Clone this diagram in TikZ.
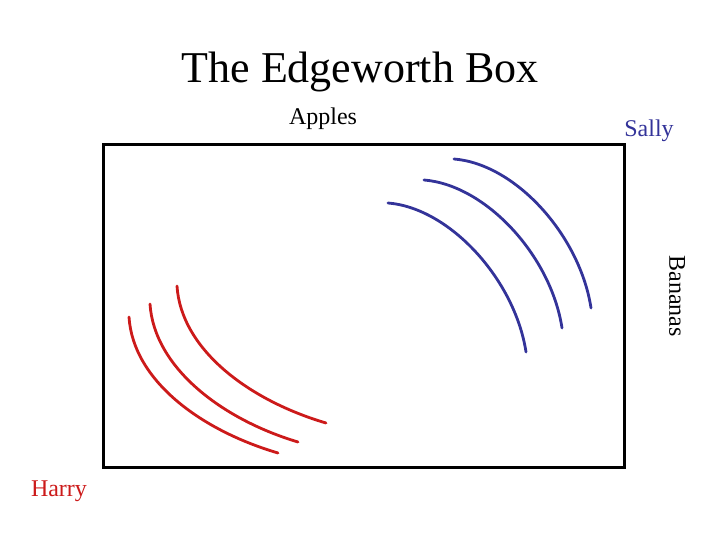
\documentclass[tikz,border=0pt]{standalone}
\usepackage{fontspec}
\setmainfont{Liberation Serif}
\definecolor{harryred}{HTML}{CC1A1A}
\definecolor{sallyblue}{HTML}{333399}
\begin{document}
\begin{tikzpicture}[x=1pt,y=-1pt,
  lbl/.style={inner sep=0pt,font=\fontsize{24}{28}\selectfont},
  redcurve/.style={draw=harryred,line width=2.8pt,line cap=round},
  bluecurve/.style={draw=sallyblue,line width=2.8pt,line cap=round}]
\useasboundingbox (0,0) rectangle (720,540);
\node[inner sep=0pt,font=\fontsize{44}{50}\selectfont] (title) at (360,72) {The Edgeworth Box};
\draw[line width=3pt] (103,145) rectangle (624,467);
\node[lbl] (apples) at (323,119) {Apples};
\node[lbl,text=sallyblue] (sally) at (649,131) {Sally};
\node[lbl,text=harryred] (harry) at (59,491) {Harry};
\node[lbl,rotate=-90] (bananas) at (677,296) {Bananas};
% Harry's indifference curves
\draw[redcurve] (129,317) .. controls (133,380) and (200,430) .. (278,453);
\draw[redcurve] (150,304) .. controls (154,367) and (221,419) .. (298,442);
\draw[redcurve] (177,286) .. controls (181,349) and (248,400) .. (326,423);
% Sally's indifference curves
\draw[bluecurve] (388,203) .. controls (450,208) and (515,280) .. (526,352);
\draw[bluecurve] (424,180) .. controls (486,185) and (551,256) .. (562,328);
\draw[bluecurve] (454,159) .. controls (516,164) and (580,236) .. (591,308);
\end{tikzpicture}
\end{document}
